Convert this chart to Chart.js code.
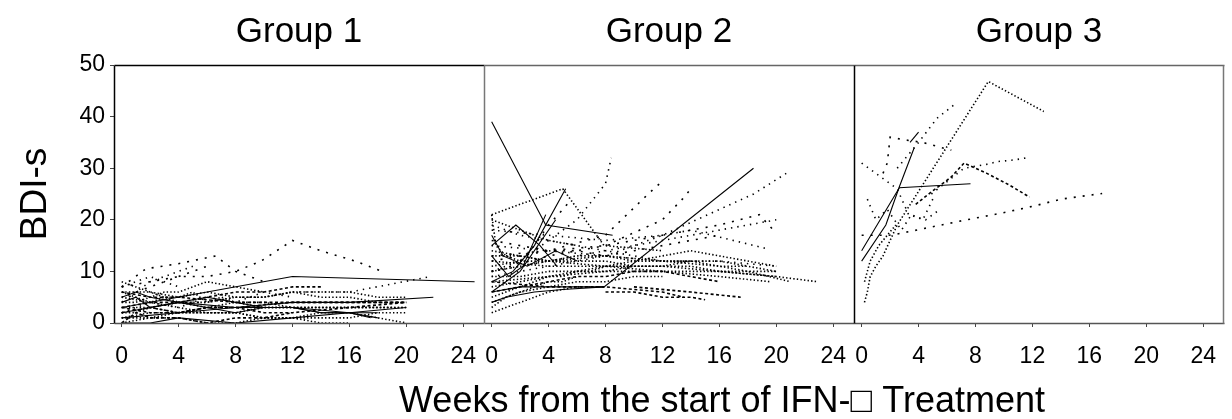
<!DOCTYPE html>
<html><head><meta charset="utf-8">
<script src="https://cdn.jsdelivr.net/npm/chart.js@4/dist/chart.umd.min.js"></script>
<style>html,body{margin:0;padding:0;background:#fff;}canvas{display:block;}</style>
</head><body>
<canvas id="c" width="1232" height="419"></canvas>
<script>
// ---------- text ----------
const groupTitles = ['Group 1', 'Group 2', 'Group 3'];
const yTitle = 'BDI-s';
const xTitle = 'Weeks from the start of IFN-\u25A1 Treatment';
const yTickValues = [0, 10, 20, 30, 40, 50];
const xTickWeeks = [0, 4, 8, 12, 16, 20, 24];

// ---------- Group 1 trajectories (weeks / BDI-s) ----------
const g1Weeks = [
 [0,12,24.8],[0,4,8,12,16,21.9],[0,2,4,8,12,16,20],[0,1,2,4,6,8,10,12,14,16,18],
 [0,2,4,6,8,9.8,12,14,16.4,18.3],[0,1.7,4,6.6,8,10],[0,2,4,6,8,10,12,14,16,18.5,21.7],
 [0,1,2,3,4,6,8,10,12,14,16,18,20],[0,2,4,6,8,10,12,14,16,18,20],[0,1,2,3,4,5,6,7,8,10,12],
 [0,2,4,6,8,12,16,20],[0,1,2,4,6,8,10,12],[0,2,4,6,8,10,12,14,16,18],[0,2,4,6,8,10,12,14,16,18,20],
 [0,1,2,3,4,6],[0,1,2,4,6,8,10,12,14,16,17.5],[0,2,4,6,8,10,12,14,16,18,20],[0,2,4,6,8,10,12],
 [0,1,2,3,4],[0,2,4,6,8,10,12,14,16],[0,2,4,6,8,10,12,16,20],[0,4,8,12,16,18],
 [0,1,2,3,4,5,6,8,10],[0,2,4,6,8,12,16,19],[0,1,2,3,4,5],[0,2,4,6,8,10,12,14],
 [0,1,2,4,6,8,10,12,14,16,18,20],[0,2,4,8,12,16,20]
];
const g1Scores = [
 [3,9,8],[1,2,3,4,4,5],[0,0,1,0,1,2,3],[4,5,3,4,3,2,3,3,2,2,1],
 [7,8,9,9,10,12,16,14,12,10],[7,10.5,11.5,13,10,8],[2,3,4,4,5,5,6,6,6,7.3,9],
 [6,5,4,5,4,3,4,3,3,3,3,3,3],[5,4,3,2,2,1,1,2,2,1,0],[8,7,6,5,5,6,4,5,4,4,3],
 [2,3,2,3,3,4,4,4],[0,2,1,1,0,1,1,2],[3,3,4,4,5,5,6,5,5,4],[1,1,2,2,2,3,3,3,3,3,3],
 [4,6,7,8,9,11],[5,6,5,4,5,4,3,3,2,2,1],[6,6,5,6,5,5,6,6,6,5,5],[2,4,3,5,4,6,5],
 [7,8,9,8,7],[0,1,1,0,0,1,1,0,0],[3,2,2,3,3,2,2,3,4],[2,4,3,3,2,2],
 [4,4,5,6,6,7,8,7,6],[1,2,2,3,3,3,3,3],[5,6,8,9,10,11],[3,4,4,5,6,6,7,7],
 [2,2,3,2,2,2,1,1,1,1,2,2],[6,5,5,4,4,4,4]
];

// ---------- Group 2 trajectories ----------
const g2Weeks = [
 [0,3.8,8.5],[0,2,4,7.9,18.4],[0,5,7.9,12],[0,0.3,1,2],[0,1.7,3.4,4.6],[0,1.5,3,5.2],
 [0,2,4.5],[0,1.2,2.2,3.8],[0,0.8,2.5,4.5,6],[0,2,4,6,8,8.4],[0,4,8,11,11.8],
 [0,4,8,12,13.4,14],[0,4,8,12,16,18.4,20.7],[0,4,8,12,16,20,22.9],[0,1,2,3,4,6,8],
 [0,0.5,1,2,3,4,5,6],[0,4,8,12,13.5],[10,14,17.5],[0,4,8,12,16,19.6],[0,4,8,12,16,18,21],
 [0,2,4,8,12,16,20],[0,4,8,12,16,18.8,19.8],[0,4,8,12,14,19.2],[0,1,2,3,4,6],
 [0,2,4,6,8,10,12,14,16,18,20],[0,2,4,6,8,10,12,14,16,18],[0,1,2,3,4,5,6,7,8,9,10],
 [0,2,4,6,8,10,12,14,16],[2,3,4,5,5.6],[0,2,4,6,8,10,12,14,16,18,20],[0,4,8,12,16,20],
 [0,1,2,4,6,8,10,12],[0,2,4,6,8,10,12,16,20],[0,2,4,6,8,10,12,14,16],
 [0,1,2,4,6,8,10,12,14],[8,10,12,14,15],[0,2,4,6,8,10,12,14,16,18,20],[0,1,3,5,7.9]
];
const g2Scores = [
 [39,19,17],[6,7,7,7,30],[21,26,15,14],[21,15,13,12],[15,19,15,11],[8,10,15,26],
 [6,10,20],[13,9,11,21],[17,13,11,14,12],[10,12,16,20,27,32],[12,14,17,25,27],
 [10,13,15,20,24,26],[9,11,13,17,22,25,29],[12,11,11,10,10,9,8],[2,3,4,5,6,7,7],
 [3,4,5,6,7,8,8,9],[8,7,7,6,5],[7,6,5],[8,9,10,10,9,8],[10,12,13,12,11,10,8],
 [14,13,12,11,11,10,9],[13,14,15,17,19,21,18],[18,17,16,17,18,14.5],[20,19,18,17,16,15],
 [11,12,12,13,13,12,12,12,11,11,10],[7,8,9,10,10,11,11,12,12,11],[5,6,7,8,9,9,10,10,11,11,11],
 [16,15,14,14,13,14,15,16,17],[12,15,19,22,24],[9,9,10,10,11,12,13,14,13,12,11],[15,14,13,12,12,11],
 [4,5,6,7,8,8,9,9],[10,11,12,13,14,15,16,18,20],[6,7,8,9,9,10,10,9,8],
 [19,18,17,16,15,14,13,12,12],[6,6,5,5,4.5],[13,13,12,12,12,11,11,11,10,10,10],[4,5,6,6.5,7]
];

// ---------- Group 3 trajectories ----------
const g3Weeks = [
 [0.2,0.4,0.6,1.0,1.5,2.5,8.9,12.8],[0,1,2.5,3.3,4.5,5.5],[0,1.7,2.65,3.7],[0,2.65,7.65],
 [0,1.9,2.6,7.2,10.2,12.3,14,16.9],[3.8,4.9,6.3,7.2,8.8,10.4,11.8],[4.9,7.2,8.7,9.6,10.7,11.6],
 [1.5,1.8,2.0,3,4.3,5.6,6.3],[2.5,4,5.3,6.6],[0.4,1,1.8,2.8,3.5,4.3,5],[3.4,4.0],[0.2,0.6,1.2,1.8,2.4]
];
const g3Scores = [
 [4,6,9,11,13,19,46.8,41],[31,29,26,21,20,22],[12,19,26.4,34],[14,26.2,27],
 [17,17,17.3,19.9,21.5,22.8,24,25.1],[23,25.4,28.3,31,29,26.7,24.4],[25,30,30.7,31.3,31.6,32],
 [29,31,36,35.5,35,34,33.5],[30,35,39.7,42.5],[24,20,22,18,21,20,24],[35,37],[8,12,15,17,19]
];

// ---------- line styles per subject (style only) ----------
const DASH = { solid: [], dot: [1.4,2.2], dotSparse: [1.4,5], dash: [3,2.5], dashSparse: [2,7] };
const g1Style = ['solid','solid','solid','solid','dashSparse','dashSparse','dotSparse','dot','dot','dot',
 'dash','dash','dot','dot','dashSparse','solid','dot','dotSparse','dotSparse','dot','dash','solid',
 'dot','dot','dotSparse','dash','dot','dash'];
const g2Style = ['solid','solid','dot','dot','solid','solid','solid','solid','solid','dotSparse',
 'dashSparse','dashSparse','dotSparse','dot','dot','dot','dash','dash','dot','dot','dot','dashSparse',
 'dotSparse','dot','dot','dot','dot','dashSparse','dashSparse','dot','dotSparse','dot','dotSparse',
 'dash','dotSparse','dash','dot','solid'];
const g3Style = ['dot','dotSparse','solid','solid','dashSparse','dash','dotSparse','dashSparse',
 'dotSparse','dotSparse','solid','dot'];

// ---------- build ----------
const SPAN = 26;          // weeks shown per panel
const X0 = -0.54;         // left edge of each panel (weeks)
const groups = [
  { weeks: g1Weeks, scores: g1Scores, style: g1Style },
  { weeks: g2Weeks, scores: g2Scores, style: g2Style },
  { weeks: g3Weeks, scores: g3Scores, style: g3Style }
];
const datasets = [];
groups.forEach((g, k) => {
  g.weeks.forEach((ws, i) => {
    const st = g.style[i] || 'dot';
    datasets.push({
      data: ws.map((w, j) => ({ x: w + k * SPAN, y: g.scores[i][j] })),
      borderColor: '#000',
      borderWidth: st === 'solid' ? 1.1 : 1.6,
      borderDash: DASH[st],
      pointRadius: 0,
      tension: 0,
      fill: false
    });
  });
});
const xTicksAll = [];
for (let k = 0; k < 3; k++) xTickWeeks.forEach(w => xTicksAll.push(w + k * SPAN));

const FONT = '"Liberation Sans", Arial, sans-serif';

const panelPlugin = {
  id: 'panels',
  afterDatasetsDraw(chart) {
    const ctx = chart.ctx, xs = chart.scales.x, ca = chart.chartArea;
    const top = Math.round(ca.top) + 0.5, bot = Math.round(ca.bottom) + 0.5;
    ctx.save();
    ctx.lineWidth = 1.5;
    for (let k = 0; k < 3; k++) {
      const l = Math.round(xs.getPixelForValue(k * SPAN + X0)) + 0.5;
      const r = Math.round(xs.getPixelForValue((k + 1) * SPAN + X0)) + 0.5;
      ctx.strokeStyle = k === 0 ? '#000' : '#666';
      ctx.beginPath(); ctx.moveTo(l, top); ctx.lineTo(r, top); ctx.stroke();
      ctx.strokeStyle = '#555';
      ctx.beginPath(); ctx.moveTo(l, bot); ctx.lineTo(r, bot); ctx.stroke();
      ctx.strokeStyle = (k === 1) ? '#777' : '#000';
      ctx.beginPath(); ctx.moveTo(l, top); ctx.lineTo(l, bot); ctx.stroke();
      if (k === 2) {
        ctx.strokeStyle = '#777';
        ctx.beginPath(); ctx.moveTo(r - 1, top); ctx.lineTo(r - 1, bot); ctx.stroke();
      }
    }
    ctx.restore();
  },
  afterDraw(chart) {
    const ctx = chart.ctx, xs = chart.scales.x, ca = chart.chartArea;
    ctx.save();
    ctx.fillStyle = '#000';
    ctx.textAlign = 'center';
    ctx.textBaseline = 'alphabetic';
    ctx.font = '35px ' + FONT;
    groupTitles.forEach((t, k) => {
      const cx = (xs.getPixelForValue(k * SPAN + X0) + xs.getPixelForValue((k + 1) * SPAN + X0)) / 2;
      ctx.fillText(t, cx, 42);
    });
    ctx.font = '36px ' + FONT;
    ctx.fillText(xTitle, 722, 412);
    ctx.font = '37px ' + FONT;
    ctx.translate(36, (ca.top + ca.bottom) / 2);
    ctx.rotate(-Math.PI / 2);
    ctx.textBaseline = 'middle';
    ctx.fillText(yTitle, 0, 0);
    ctx.restore();
  }
};

new Chart(document.getElementById('c'), {
  type: 'line',
  data: { datasets },
  options: {
    responsive: false,
    animation: false,
    devicePixelRatio: 1,
    layout: { padding: { top: 65, right: 2, left: 0, bottom: 0 } },
    plugins: { legend: { display: false }, tooltip: { enabled: false }, title: { display: false } },
    elements: { line: { borderCapStyle: 'butt' } },
    scales: {
      x: {
        type: 'linear',
        min: X0,
        max: 3 * SPAN + X0,
        afterBuildTicks: s => { s.ticks = xTicksAll.map(v => ({ value: v })); },
        afterFit: s => { s.height = 96; },
        border: { display: false },
        grid: { drawOnChartArea: false, drawTicks: true, tickLength: 4, color: '#444', lineWidth: 1 },
        ticks: {
          autoSkip: false, maxRotation: 0, minRotation: 0, padding: 16,
          color: '#000', font: { size: 23, family: FONT },
          callback: v => String(Math.round(v) % SPAN)
        }
      },
      y: {
        min: 0, max: 50,
        afterBuildTicks: s => { s.ticks = yTickValues.map(v => ({ value: v })); },
        afterFit: s => { s.width = 114; },
        border: { display: false },
        grid: { drawOnChartArea: false, drawTicks: true, tickLength: 4, color: '#444', lineWidth: 1 },
        ticks: { padding: 5, color: '#000', font: { size: 23, family: FONT } }
      }
    }
  },
  plugins: [panelPlugin]
});
</script>
</body></html>
